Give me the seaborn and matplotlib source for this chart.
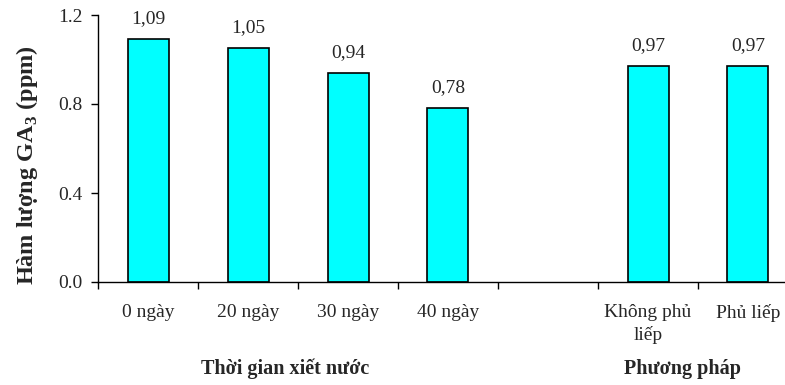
import matplotlib
matplotlib.use("Agg")
import matplotlib.pyplot as plt
import seaborn as sns
import pandas as pd

# Category order along the x axis (blank slot separates the two groups)
categories = ["0 ngày", "20 ngày", "30 ngày", "40 ngày", " ", "Không phủ\nliếp", "Phủ liếp"]
bar_labels = ["0 ngày", "20 ngày", "30 ngày", "40 ngày", "Không phủ\nliếp", "Phủ liếp"]
ga3_values = [1.09, 1.05, 0.94, 0.78, 0.97, 0.97]
y_ticks = [0.0, 0.4, 0.8, 1.2]
group_labels = ["Thời gian xiết nước", "Phương pháp"]

sns.set_style("ticks")
plt.rcParams["font.family"] = ["Liberation Serif", "DejaVu Serif"]
plt.rcParams["mathtext.fontset"] = "custom"
plt.rcParams["mathtext.rm"] = "Liberation Serif:bold"
plt.rcParams["mathtext.bf"] = "Liberation Serif:bold"

df = pd.DataFrame({"cat": bar_labels, "val": ga3_values})

fig = plt.figure(figsize=(7.85, 3.85), dpi=100)
W, H = 785, 385
ax = fig.add_axes([98 / W, 103 / H, (W - 98) / W, 267 / H])

sns.barplot(data=df, x="cat", y="val", order=categories, color="#00FFFF",
            saturation=1, width=0.41, edgecolor="black", linewidth=1.2, ax=ax)

ax.set_xlim(-0.5, 6.37)
ax.set_ylim(0, 1.2)
ax.set_yticks(y_ticks)
ax.set_yticklabels([f"{t:.1f}" for t in y_ticks], fontsize=14)

# labels at category centres, tick marks at the category boundaries
ax.set_xticks(range(len(categories)))
ax.set_xticklabels(categories, fontsize=14, linespacing=1.35)
ax.tick_params(axis="x", which="major", length=0, pad=16)
ax.set_xticks([i - 0.5 for i in range(len(categories))], minor=True)
ax.tick_params(axis="x", which="minor", length=5, width=1, color="black", direction="out")
ax.tick_params(axis="y", length=5, width=1, color="black", direction="out", pad=6)
ax.set_xlabel("")
ax.set_ylabel("")

for s in ["top", "right"]:
    ax.spines[s].set_visible(False)
for s in ["left", "bottom"]:
    ax.spines[s].set_color("black")
    ax.spines[s].set_linewidth(1)

# value labels above each bar
for lab, v in zip(bar_labels, ga3_values):
    xi = categories.index(lab)
    ax.text(xi, v + 0.055, f"{v:.2f}".replace(".", ","), ha="center", va="bottom",
            fontsize=14)

fig.text(27 / W, 1 - 165 / H, "Hàm lượng GA$_{\\mathbf{3}}$ (ppm)", rotation=90,
         ha="center", va="center", fontsize=17.5, fontweight="bold")
fig.text(285 / W, 1 - 369 / H, group_labels[0], ha="center", va="center",
         fontsize=14.5, fontweight="bold")
fig.text(682 / W, 1 - 369 / H, group_labels[1], ha="center", va="center",
         fontsize=14.5, fontweight="bold")

fig.savefig("out.png", dpi=100)
